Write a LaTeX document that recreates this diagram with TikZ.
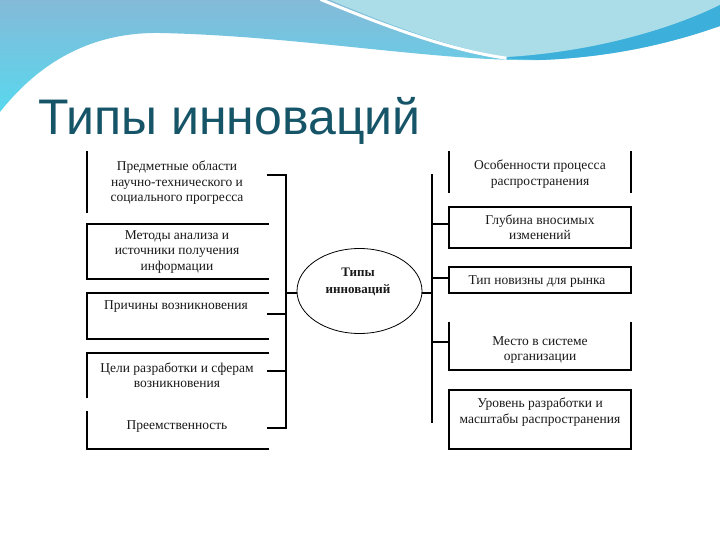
\documentclass[tikz,border=0pt]{standalone}
\usepackage{fontspec}
\setmainfont{Liberation Serif}
\newfontfamily\titlefont{Liberation Sans}
\usetikzlibrary{shapes.geometric}
\definecolor{titleblue}{RGB}{22,84,104}
\definecolor{bandtop}{RGB}{132,186,216}
\definecolor{bandlow}{RGB}{88,216,238}
\definecolor{paleband}{RGB}{170,221,232}
\definecolor{streak}{RGB}{60,176,218}
\definecolor{inkgray}{RGB}{25,25,25}
\tikzset{
    boxtxt/.style={
        font=\fontsize{13.5}{15.5}\selectfont, align=center, text=inkgray, inner sep=0pt
    }
}

\begin{document}
\begin{tikzpicture}[x=1pt,y=-1pt, line cap=rect, line join=miter]

\tikzset{
  side/.style={draw=black, line width=1.1pt},
  wire/.style={draw=black, line width=1.1pt},
  frame/.style={rectangle, minimum width=#1, inner sep=0pt, outer sep=0pt},
  hub/.style={ellipse, draw=black, line width=0.8pt, minimum width=125pt, minimum height=85pt, inner sep=0pt},
  hubtxt/.style={font=\bfseries\fontsize{13}{17}\selectfont, align=center, text=inkgray, inner sep=0pt},
}

\useasboundingbox (0,0) rectangle (720,540);
\fill[white] (0,0) rectangle (720,540);

% top band
\shade[top color=bandtop, bottom color=bandlow] (0,0) -- (720,0) -- (720,26)
  .. controls (680,40) and (620,57) .. (540,60)
  .. controls (440,62) and (300,36) .. (160,33)
  .. controls (100,32) and (45,55) .. (0,112) -- cycle;
\fill[paleband] (330,0) .. controls (390,25) and (450,48) .. (505,57)
  .. controls (600,52) and (680,25) .. (720,5) -- (720,0) -- cycle;
\fill[streak] (495,58) .. controls (600,53) and (680,25) .. (720,5) -- (720,26)
  .. controls (680,40) and (620,57) .. (540,60) -- cycle;
\draw[white, line width=3pt] (322,0) .. controls (390,28) and (450,50) .. (505,58);

% title
\node[anchor=base west, inner sep=0pt, text=titleblue, font=\titlefont\fontsize{50}{60}\selectfont] (title) at (38,135) {Типы инноваций};

% boxes
\node[frame=181pt, minimum height=60pt] (L1) at (177.5,182) {};
\node[frame=181pt, minimum height=55pt] (L2) at (177.5,251.5) {};
\node[frame=181pt, minimum height=46pt] (L3) at (177.5,316) {};
\node[frame=181pt, minimum height=44pt] (L4) at (177.5,375) {};
\node[frame=181pt, minimum height=37pt] (L5) at (177.5,430.5) {};
\node[frame=182pt, minimum height=40pt] (R1) at (540,172) {};
\node[frame=182pt, minimum height=41pt] (R2) at (540,227.5) {};
\node[frame=182pt, minimum height=26pt] (R3) at (540,280) {};
\node[frame=182pt, minimum height=47pt] (R4) at (540,346.5) {};
\node[frame=182pt, minimum height=59pt] (R5) at (540,419.5) {};
\node[hub] (E) at (359.5,291) {};

% box sides
\draw[side] (L1.north west) -- (L1.south west);
\draw[side] (L2.north east) -- (L2.north west) -- (L2.south west) -- (L2.south east);
\draw[side] (L3.north east) -- (L3.north west) -- (L3.south west) -- (L3.south east);
\draw[side] (L4.north east) -- (L4.north west) -- (L4.south west);
\draw[side] (L5.north west) -- (L5.south west) -- (L5.south east);
\draw[side] (R1.north west) -- (R1.south west);
\draw[side] (R1.north east) -- (R1.south east);
\draw[side] (R2.north west) rectangle (R2.south east);
\draw[side] (R3.north west) rectangle (R3.south east);
\draw[side] (R4.north west) -- (R4.south west) -- (R4.south east) -- (R4.north east);
\draw[side] (R5.north west) rectangle (R5.south east);

% buses
\coordinate (LT) at (286,175);
\coordinate (LB) at (286,428);
\coordinate (RT) at (432,175);
\coordinate (RB) at (432,422);

\draw[wire] (L1.east |- LT) -- (LT) -- (LB) -- (L5.east |- LB);
\draw[wire] ([yshift=2pt]L3.east) -- ++(18,0);
\draw[wire] ([yshift=4pt]L4.east) -- ++(18,0);
\draw[wire] (RT) -- (RB);
\draw[wire] ([yshift=3.5pt]R2.west) -- ++(-17,0);
\draw[wire] ([yshift=2pt]R3.west) -- ++(-17,0);
\draw[wire] ([yshift=4.5pt]R4.west) -- ++(-17,0);
\draw[wire] ([yshift=-2pt]E.west) -- ++(-11.5,0);
\draw[wire] ([yshift=-2pt]E.east) -- ++(10,0);

% labels
\node[boxtxt] (tL1) at (177,183) {Предметные области\\научно-технического и\\социального прогресса};
\node[boxtxt] (tL2) at (177,252) {Методы анализа и\\источники получения\\информации};
\node[boxtxt] (tL3) at (176,307) {Причины возникновения};
\node[boxtxt] (tL4) at (177,375) {Цели разработки и сферам\\возникновения};
\node[boxtxt] (tL5) at (177,427) {Преемственность};
\node[boxtxt] (tR1) at (540,174) {Особенности процесса\\распространения};
\node[boxtxt] (tR2) at (540,227) {Глубина вносимых\\изменений};
\node[boxtxt] (tR3) at (537,282) {Тип новизны для рынка};
\node[boxtxt] (tR4) at (540,350) {Место в системе\\организации};
\node[boxtxt] (tR5) at (540,412) {Уровень разработки и\\масштабы распространения};
\node[hubtxt] (tE) at (358,282) {Типы\\инноваций};

\end{tikzpicture}
\end{document}
